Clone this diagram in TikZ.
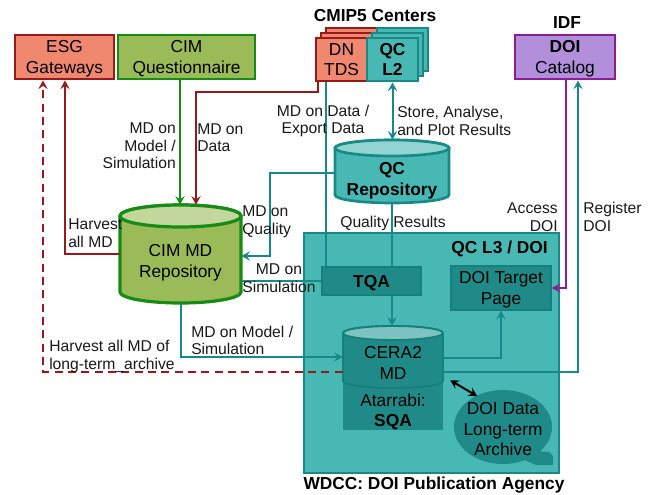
\documentclass[tikz,border=0pt]{standalone}
\usepackage{fontspec}
\setmainfont{Liberation Sans}
\usetikzlibrary{arrows.meta,fit,calc}
\definecolor{salmon}{HTML}{F0876F}
\definecolor{dred}{HTML}{951B1B}
\definecolor{cgreen}{HTML}{9BBB59}
\definecolor{cgreenl}{HTML}{C3D69B}
\definecolor{dgreen}{HTML}{168C16}
\definecolor{tealf}{HTML}{48B8B5}
\definecolor{teall}{HTML}{92D4D2}
\definecolor{tealb}{HTML}{178A88}
\definecolor{teald}{HTML}{1F8A87}
\definecolor{tealdd}{HTML}{177F7C}
\definecolor{ceratop}{HTML}{7DC3C1}
\definecolor{purf}{HTML}{B28FDB}
\definecolor{purb}{HTML}{8B1E96}
\newcommand\drawcyl[9]{%
 \pgfmathsetmacro\cylrx{(#3-#1)/2*0.75}%
 \pgfmathsetmacro\cylry{#5*0.75}%
 \pgfmathsetmacro\cylyt{#2+#5}%
 \pgfmathsetmacro\cylyb{#4-#5}%
 \pgfmathsetmacro\cylxc{(#1+#3)/2}%
 \filldraw[fill=#6, draw=#8, line width=#9] (#1,\cylyt) -- (#1,\cylyb)
   arc[start angle=180, end angle=360, x radius=\cylrx pt, y radius=\cylry pt]
   -- (#3,\cylyt)
   arc[start angle=0, end angle=180, x radius=\cylrx pt, y radius=\cylry pt] -- cycle;
 \filldraw[fill=#7, draw=#8, line width=#9] (\cylxc,\cylyt) ellipse[x radius=\cylrx pt, y radius=\cylry pt];
}
\begin{document}
\begin{tikzpicture}[x=0.75pt,y=-0.75pt,
  boxfont/.style={font=\fontsize{13}{15.4}\selectfont},
  lbl/.style={font=\fontsize{11.75}{13.2}\selectfont, inner sep=0pt, text=black!90},
  hdr/.style={font=\fontsize{13}{15}\selectfont\bfseries, inner sep=0pt},
  fbox/.style={inner sep=0pt, align=center, boxfont, text depth=0pt},
  sz/.style 2 args={minimum width=#1*0.75pt, minimum height=#2*0.75pt},
  redbox/.style={fbox, draw=dred, fill=salmon, line width=2.2pt},
  greenbox/.style={fbox, draw=dgreen, fill=cgreen, line width=2.2pt},
  tealbox/.style={fbox, draw=tealb, fill=tealf, line width=2.2pt},
  purbox/.style={fbox, draw=purb, fill=purf, line width=2.2pt},
  darkbox/.style={fbox, draw=tealdd, fill=teald, line width=1.2pt},
  anchorbox/.style={inner sep=0pt},
  conn/.style={line width=1.5pt},
  tip/.style={-{Stealth[length=6.5pt,width=7pt,inset=2.5pt]}},
  tips/.style={{Stealth[length=6.5pt,width=7pt,inset=2.5pt]}-{Stealth[length=6.5pt,width=7pt,inset=2.5pt]}},
  dashline/.style={dash pattern=on 6pt off 4pt}
]
\useasboundingbox (0,0) rectangle (653,495);

% headings
\node[hdr] (cmiphdr) at (375,16) {CMIP5 Centers};
\node[hdr] (idfhdr) at (567,23) {IDF};

% top boxes
\node[redbox, sz={99}{44}] (esg) at (64.5,57) {ESG\\Gateways};
\node[greenbox, sz={137}{44}] (cimq) at (186.5,57) {CIM\\Questionnaire};
\node[purbox, sz={100}{44}] (doicat) at (565,57) {\textbf{DOI}\\Catalog};

% stacked CMIP5 boxes
\node[redbox, sz={51}{43}] (dn3) at (351.5,49.5) {};
\node[tealbox, sz={51}{43}] (qc3) at (402.5,49.5) {};
\node[redbox, sz={51}{43}] (dn2) at (346.5,54.5) {};
\node[tealbox, sz={51}{43}] (qc2) at (397.5,54.5) {};
\node[redbox, sz={51}{43}] (dn) at (341.5,59.5) {DN\\TDS};
\node[tealbox, sz={51}{43}] (qcl2) at (392.5,59.5) {\textbf{QC}\\\textbf{L2}};

% QC repository
\drawcyl{335}{140}{449}{203}{8}{tealf}{teall}{tealb}{2pt}
\node[anchorbox, fit={(335,140) (449,203)}] (qcrep) {};
\node[fbox, font=\fontsize{13}{15.4}\selectfont\bfseries] (qcreptxt) at (392,179) {QC\\Repository};

% CIM MD repository
\drawcyl{120}{205}{241}{303}{11}{cgreen}{cgreenl}{dgreen}{2.4pt}
\node[anchorbox, fit={(120,205) (241,303)}] (cimmd) {};
\node[fbox] (cimmdtxt) at (180.5,261) {CIM MD\\Repository};

% WDCC big box
\node[tealbox, sz={255}{240}] (wdcc) at (431.5,353) {};
\node[hdr, anchor=east] (qcl3) at (548,249) {QC L3 / DOI};
\node[hdr] (wdcchdr) at (434,485) {WDCC: DOI Publication Agency};
\node[darkbox, sz={99}{28}] (tqa) at (371.5,281) {\textbf{TQA}};
\node[darkbox, sz={100}{44}] (doitp) at (501,288) {DOI Target\\Page};

% Atarrabi SQA
\fill[teald] (343,380) rectangle (443,430);
\node[fbox] (sqa) at (393,410) {Atarrabi:\\\textbf{SQA}};

% CERA2 MD
\drawcyl{343}{326}{443}{388}{7}{teald}{ceratop}{tealdd}{1.4pt}
\node[anchorbox, fit={(343,326) (443,388)}] (cera) {};
\node[fbox] (ceratxt) at (393,363) {CERA2\\MD};

% long-term archive bubble
\fill[teald] (503,427) ellipse[x radius=36.75pt, y radius=27.75pt];
\fill[teald] (534,451) -- (549,452) -- (553,456) -- (553,465) -- (536,465) -- (524,460) -- cycle;
\node[fbox] (arch) at (503,429) {DOI Data\\Long-term\\Archive};

% connectors
\draw[conn, dgreen, tip] (180,0 |- cimq.south) -- (180,0 |- cimmd.north);
\draw[conn, dred, tip] (318,0 |- dn.south) -- (318,92) -- (196,92) -- (196,0 |- cimmd.north);
\draw[conn, tealb] (326,0 |- dn.south) -- (326,0 |- tqa.north);
\draw[conn, tealb, tips] (qcl2.south) -- (qcl2.south |- qcrep.north);
\draw[conn, tealb, tip] (qcrep.west |- 0,173) -- (270,173) -- (270,256) -- (cimmd.east |- 0,256);
\draw[conn, tealb] (tqa.west) -- (tqa.west -| cimmd.east);
\draw[conn, tealb] (qcrep.south) -- (qcrep.south |- tqa.north);
\draw[conn, tealb, tip] (qcrep.south |- tqa.south) -- (qcrep.south |- cera.north);
\draw[conn, tealb, tip] (cimmd.south) -- (cimmd.south |- 0,357) -- (cera.west |- 0,357);
\draw[conn, dred, dashline, tip] (cera.west |- 0,372) -- (43,372) -- (43,0 |- esg.south);
\draw[conn, dred, tip] (cimmd.west |- 0,254) -- (65,254) -- (65,0 |- esg.south);
\draw[conn, purb, tip] (566,0 |- doicat.south) -- (566,288) -- (doitp.east |- 0,288);
\draw[conn, tealb, tip] (cera.east |- 0,372) -- (578,372) -- (578,0 |- doicat.south);
\draw[conn, tealb, tip] (cera.east |- 0,358) -- (501,358) -- (501,0 |- doitp.south);
\draw[conn, black, tips] ($(cera.south east)+(7,-8)$) -- ($(arch.north west)+(14,-6)$);

% labels
\node[lbl, align=right, anchor=east] (l1) at (176,146) {MD on\\Model /\\Simulation};
\node[lbl, align=left, anchor=west] (l2) at (197,137.5) {MD on\\Data};
\node[lbl, align=center] (l3) at (323,121) {MD on Data /\\Export Data};
\node[lbl, align=left, anchor=west] (l4) at (397,121) {Store, Analyse,\\and Plot Results};
\node[lbl, align=left, anchor=west] (l5) at (242,222) {MD on\\Quality};
\node[lbl, align=center] (l6) at (279,278) {MD on\\Simulation};
\node[lbl] (l7) at (393,223) {Quality Results};
\node[lbl, align=left, anchor=west] (l8) at (191,340.5) {MD on Model /\\Simulation};
\node[lbl, align=left, anchor=west] (l9) at (49,356.5) {Harvest all MD of\\long-term\_archive};
\node[lbl, align=left, anchor=west] (l10) at (68,233) {Harvest\\all MD};
\node[lbl, align=right, anchor=east] (l11) at (558,217) {Access\\DOI};
\node[lbl, align=left, anchor=west] (l12) at (583,217) {Register\\DOI};
\end{tikzpicture}
\end{document}
